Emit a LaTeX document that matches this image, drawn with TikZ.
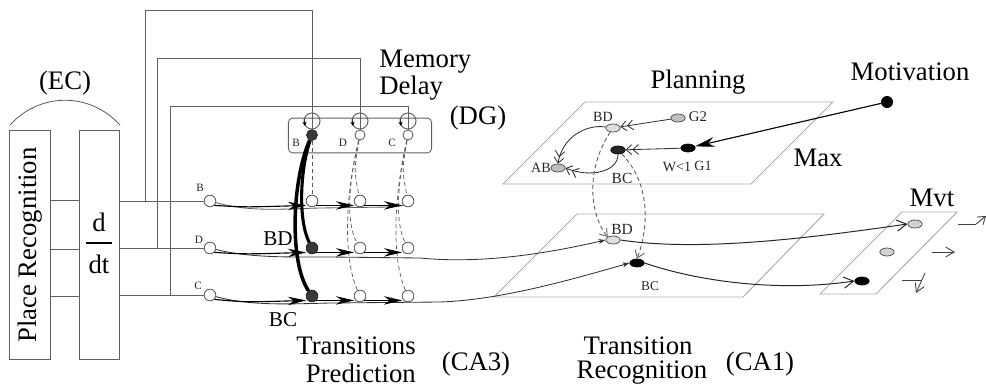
\documentclass[tikz,border=0pt]{standalone}
\usepackage{fontspec}
\setmainfont{Liberation Serif}
\usetikzlibrary{arrows.meta,shapes.geometric}

\begin{document}
\begin{tikzpicture}[x=0.025cm,y=-0.025cm,
  wire/.style={draw=gray!75!black, line width=0.6pt},
  plane/.style={draw=gray!65, line width=0.7pt},
  big/.style={font=\fontsize{19}{21}\selectfont, inner sep=0pt},
  mid/.style={font=\fontsize{15}{17}\selectfont, inner sep=0pt},
  lbl/.style={font=\fontsize{10}{11}\selectfont, inner sep=0pt, text=black!85},
  tiny/.style={font=\fontsize{8}{9}\selectfont, inner sep=0pt, text=black!85},
  cell/.style={circle, draw=gray!70!black, fill=white, line width=0.6pt, minimum size=0.29cm, inner sep=0pt},
  dgcell/.style={cell, minimum size=0.25cm},
  hot/.style={cell, fill=gray!45!black, draw=gray!30!black},
  blob/.style={ellipse, draw=gray!55!black, fill=gray!50, line width=0.5pt, minimum width=0.36cm, minimum height=0.2cm, inner sep=0pt},
  pale/.style={blob, fill=gray!25},
  dark/.style={blob, fill=gray!30!black, draw=black},
  ink/.style={blob, fill=black, draw=black},
  spike/.style={draw=black, line width=0.8pt, -{Stealth[length=13pt,width=6pt]}},
  fine/.style={wire, draw=black!80, -{Stealth[length=5pt,width=3.5pt]}},
  bigline/.style={draw=black, line width=2.2pt},
  dline/.style={draw=gray!70!black, line width=0.5pt, dash pattern=on 3pt off 2pt},
  barb/.style={-{Straight Barb[length=4pt,width=7pt]Straight Barb[length=4pt,width=7pt]}},
  onebarb/.style={-{Straight Barb[length=5pt,width=7pt]}}
]
\useasboundingbox (0,0) rectangle (986,389);

% ---------------- entorhinal cortex ----------------
\node[big] (ec) at (65,83) {(EC)};
\draw[wire] (10,125) .. controls (40,92) and (90,92) .. (120,125);
\node[draw=gray!75!black, line width=0.6pt, rotate=90, minimum width=5.73cm, minimum height=1.02cm,
      font=\fontsize{19}{21}\selectfont] (pr) at (30,245) {Place Recognition};
\node[draw=gray!75!black, line width=0.6pt, minimum width=1.0cm, minimum height=5.73cm, inner sep=0pt] (dt) at (99,245) {};
\node[big] (dnum) at (99,222) {d};
\node[big] (dden) at (99,264) {dt};
\draw[line width=0.8pt] (86,243) -- (112,243);

% input cells
\node[cell] (iB) at (210,201) {};
\node[cell] (iD) at (210,248) {};
\node[cell] (iC) at (210,295) {};
\node[tiny] at (200,188) {B};
\node[tiny] at (199,240) {D};
\node[tiny] at (198,286) {C};

\draw[wire] (pr.south |- 0,200) -- (dt.west |- 0,200);
\draw[wire] (pr.south |- 0,249) -- (dt.west |- 0,249);
\draw[wire] (pr.south |- 0,296) -- (dt.west |- 0,296);
\draw[wire] (dt.east |- iB) -- (iB);
\draw[wire] (dt.east |- iD) -- (iD);
\draw[wire] (dt.east |- iC) -- (iC);

% ---------------- dentate gyrus ----------------
\node[big, anchor=west] at (379,62) {Memory};
\node[big, anchor=west] at (379,88) {Delay};
\node[big] at (478,118) {(DG)};
\node[draw=gray!75!black, line width=0.6pt, rounded corners=3pt, minimum width=3.58cm, minimum height=0.87cm, inner sep=0pt] (dg) at (360,135.5) {};
\node[hot, minimum size=0.27cm] (gB) at (312,135) {};
\node[dgcell] (gD) at (360,135) {};
\node[dgcell] (gC) at (408,135) {};
\node[tiny] at (296,143) {B};
\node[tiny] at (343,143) {D};
\node[tiny] at (392,143) {C};

\foreach \x in {312,360,408}{
  \draw[wire, line width=0.7pt] (\x,121) circle[radius=0.2cm];
  \draw[black, -{Stealth[length=3pt,width=3pt]}] (\x-8,119) -- (\x-7,126);
}

% delayed copies fed back from the input lines
\coordinate (tB) at (145,201);
\coordinate (tD) at (157,248);
\coordinate (tC) at (170,295);
\draw[wire] (tB) -- (145,10) -- (312,10) -- (gB.north);
\draw[wire] (tD) -- (157,58) -- (360,58) -- (gD.north);
\draw[wire] (tC) -- (170,106) -- (408,106) -- (gC.north);

% ---------------- CA3 grid ----------------
\node[cell] (c1B) at (312,201) {};
\node[cell] (c2B) at (360,201) {};
\node[cell] (c3B) at (408,201) {};
\node[hot] (c1D) at (312,248) {};
\node[cell] (c2D) at (360,248) {};
\node[cell] (c3D) at (408,248) {};
\node[hot] (c1C) at (312,296) {};
\node[cell] (c2C) at (360,296) {};
\node[cell] (c3C) at (408,296) {};

\node[mid] at (278,239) {BD};
\node[mid] at (283,320) {BC};

% dashed links from DG to CA3
\draw[dline] (gB) -- (c1B);
\draw[dline] (gD) .. controls (354,170) .. (c2B);
\draw[dline] (gD) .. controls (347,190) and (347,225) .. (c2D);
\draw[dline] (gD) .. controls (342,210) and (346,265) .. (c2C);
\draw[dline] (gC) .. controls (402,170) .. (c3B);
\draw[dline] (gC) .. controls (396,190) and (396,225) .. (c3D);
\draw[dline] (gC) .. controls (391,210) and (394,265) .. (c3C);

% ---------------- CA1 ----------------
\draw[plane] (494,297) -- (577,214) -- (824,214) -- (743,297) -- cycle;
\node[pale] (cBD) at (613,240) {};
\node[ink] (cBC) at (637,263) {};
\node[lbl, font=\fontsize{11}{12}\selectfont] at (622,229) {BD};
\node[lbl, font=\fontsize{9.5}{11}\selectfont] at (650,286) {BC};
\node[big] at (638,346) {Transition};
\node[big] at (642,373) {Recognition};
\node[big] at (760,364) {(CA1)};

% axons along each row
\draw[wire] (iB) .. controls (250,212) and (280,209) .. (320,208) -- (390,207) .. controls (398,206) .. (c3B.south west);
\draw[fine] (iD) .. controls (250,258) and (290,257) .. (330,257) -- (420,258)
   .. controls (480,264) and (545,254) .. (cBD.west);
\draw[fine] (iC) .. controls (250,306) and (290,304) .. (330,303) -- (440,302)
   .. controls (500,300) and (570,280) .. (cBC.west);

% synapses onto the CA3 cells
\foreach \r in {B,D,C}{
  \draw[spike] (i\r.south east) .. controls (245,0 |- c1\r.south) .. ([xshift=-1pt]c1\r.south west);
  \draw[spike] (c1\r.south east) -- ([xshift=-1pt]c2\r.south west);
  \draw[spike] (c2\r.south east) -- ([xshift=-1pt]c3\r.south west);
}

% delayed B onto the D and C rows
\draw[bigline] (gB) .. controls (300,170) and (298,220) .. (c1D);
\draw[bigline, line width=2.5pt] (gB) .. controls (292,180) and (289,262) .. (c1C);

\node[big, anchor=east] at (416,346) {Transitions};
\node[big, anchor=east] at (416,373) {Prediction};
\node[big] at (476,364) {(CA3)};

% ---------------- planning ----------------
\draw[plane] (503,184) -- (585,102) -- (833,102) -- (751,184) -- cycle;
\node[big] at (698,82) {Planning};
\node[big] at (818,158) {Max};
\node[pale] (pBD) at (613,128) {};
\node[blob] (pG2) at (678,118) {};
\node[ink] (pG1) at (688,148) {};
\node[dark] (pBC) at (618,150) {};
\node[blob] (pAB) at (558,168) {};
\node[lbl] at (603,117) {BD};
\node[lbl, font=\fontsize{10.5}{12}\selectfont] at (698,117) {G2};
\node[lbl] at (703,166) {G1};
\node[lbl] at (677,167) {W<1};
\node[lbl, font=\fontsize{11}{12}\selectfont] at (622,178) {BC};
\node[lbl] at (541,168) {AB};

\draw[wire, draw=black!80, barb] (pG2) -- (pBD);
\draw[wire, draw=black!80, barb] (pG1) -- (pBC);
\draw[wire, draw=black!80, barb] (pBD) .. controls (585,124) and (562,138) .. (pAB.north);
\draw[wire, draw=black!80, barb] (pBC) .. controls (618,172) and (590,178) .. (pAB.east);

% motivation
\node[circle, fill=black, minimum size=0.3cm, inner sep=0pt] (mot) at (887,102) {};
\node[big] at (910,72) {Motivation};
\draw[draw=black, line width=0.8pt, -{Stealth[length=14pt,width=7pt]}] (mot) -- (pG1);

% planning read-out onto CA1
\draw[dline, line width=0.6pt, onebarb] (pBD) .. controls (585,170) and (590,215) .. (cBD.north west);
\draw[dline, line width=0.6pt, onebarb] (pBC) .. controls (652,185) and (648,230) .. (cBC.north);

% ---------------- movement ----------------
\draw[plane] (820,294) -- (902,212) -- (957,212) -- (876,294) -- cycle;
\node[big] at (932,198) {Mvt};
\node[blob, fill=gray!35] (mT) at (915,224) {};
\node[blob, fill=gray!35] (mM) at (887,252) {};
\node[ink] (mB) at (862,281) {};

\draw[wire, draw=black!85, line width=0.7pt, -{Straight Barb[length=7pt,width=8pt]}] (cBD.east) .. controls (700,252) and (810,238) .. (mT.west);
\draw[wire, draw=black!85, line width=0.7pt, -{Straight Barb[length=7pt,width=8pt]}] (cBC.east) .. controls (700,282) and (780,292) .. (mB.west);

% direction of movement
\coordinate (dirT) at (986,216);
\draw[wire, draw=black!75] (958,224) -- (976,224);
\draw[wire, draw=black!75, onebarb] (976,224) -- (dirT);
\coordinate (dirM) at (955,252);
\draw[wire, draw=black!75, -{Straight Barb[length=6pt,width=7pt]}] (932,252) -- (dirM);
\coordinate (dirB) at (916,293);
\draw[wire, draw=black!75] (902,280) -- (922,280);
\draw[wire, draw=black!75, -{Straight Barb[length=6pt,width=7pt]}] (925,273) -- (dirB);
\end{tikzpicture}
\end{document}
